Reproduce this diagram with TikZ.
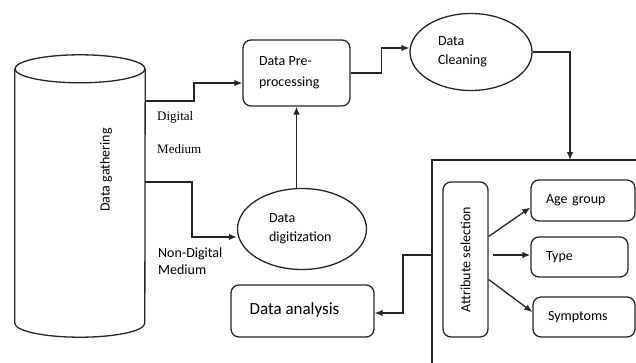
\documentclass[tikz,border=0pt]{standalone}
\usepackage{fontspec}
\setmainfont{Carlito}
\newfontfamily\serifcap{Liberation Serif}
\usetikzlibrary{shapes.geometric,arrows.meta,calc}

\tikzset{
  base/.style={draw=black!85, line width=1.3pt, inner sep=0pt,
               font=\fontsize{14}{19}\selectfont},
  roundbox/.style={base, rectangle, rounded corners=8pt},
  oval/.style={base, ellipse},
  attrbox/.style={roundbox, align=left, inner xsep=15pt, anchor=center},
  link/.style={draw=black!85, line width=1.3pt, -{Latex[length=8pt,width=6.5pt]}},
  plain/.style={draw=black!85, line width=1.3pt},
  medlabel/.style={anchor=west, align=left, inner sep=0pt}
}

\begin{document}
\begin{tikzpicture}[x=1pt,y=-1pt]
  \useasboundingbox (0,0) rectangle (636,362);

  % storage cylinder
  \node (cyl) [rectangle, minimum width=130pt, minimum height=254pt, inner sep=0pt] at (80,196) {};
  \draw[plain] (cyl.north west) -- (cyl.south west)
        arc[start angle=180, end angle=360, x radius=65pt, y radius=14pt]
        -- (cyl.north east);
  \draw[plain] (cyl.north) ellipse [x radius=65pt, y radius=14pt];
  \node (gather) [font=\fontsize{14}{17}\selectfont, inner sep=0pt] at (106,170)
        {\rotatebox{90}{Data gathering}};

  % processing chain
  \node (prep) [roundbox, minimum width=107pt, minimum height=66pt, align=left,
                font=\fontsize{14}{21}\selectfont] at (296.5,73)
        {\hspace*{-5pt}\parbox{70pt}{Data Pre-\\processing}};
  \node (clean) [oval, minimum width=122pt, minimum height=77pt, align=left] at (471,52)
        {\hspace*{-6pt}\parbox{60pt}{Data\\Cleaning}};
  \node (digit) [oval, minimum width=129pt, minimum height=81pt, align=left] at (302,229)
        {\raisebox{4pt}{\parbox{66pt}{Data\\digitization}}};
  \node (analysis) [roundbox, minimum width=143pt, minimum height=52pt,
                    font=\fontsize{17}{20}\selectfont] at (302.5,311)
        {\hspace*{-16pt}\raisebox{5pt}{Data analysis}};

  % attribute block
  \node (attr) [roundbox, minimum width=45pt, minimum height=155pt] at (465.5,259.5)
        {\rotatebox{90}{Attribute selection}};
  \node (age) [attrbox, minimum height=41pt, text width=74pt] at (583,200.5) {Age group};
  \node (type) [attrbox, minimum height=40pt, text width=67pt] at (579.5,257) {Type};
  \node (sym) [attrbox, minimum height=40pt, text width=72pt] at (584,317) {Symptoms};

  % medium labels
  \node (dlab) [medlabel, font=\serifcap\fontsize{13}{33}\selectfont] at (157,133)
        {Digital\\Medium};
  \node (ndlab) [medlabel, font=\fontsize{14}{17}\selectfont] at (158,261.5)
        {Non-Digital\\Medium};

  % open frame round the attribute block
  \coordinate (frametop) at (570,160);
  \coordinate (frameleft) at (432,255);
  \draw[plain] (640,160) -- (432,160) -- (432,366);

  % connectors
  \coordinate (digout) at (145,101);
  \coordinate (nondigout) at (145,182);
  \draw[link] (digout) -- ++(49,0) |- ([yshift=-10pt]prep.west);
  \draw[link] (nondigout) -- ++(47,0) |- ([yshift=-8pt]digit.west);
  \draw[link] (digit.north -| prep.south) -- (prep.south);
  \draw[link] (prep.east) -- ++(31,0) |- ([yshift=4pt]clean.west);
  \draw[link] (clean.east) -| (frametop);
  \draw[link] (frameleft) -- ++(-29,0) |- ([yshift=-2pt]analysis.east);

  \draw[link] ([yshift=23pt]attr.east) -- ([yshift=-7pt]age.west);
  \draw[link] ([yshift=4.5pt,xshift=4pt]attr.east) -- ([yshift=2pt]type.west);
  \draw[link] ([yshift=-20pt]attr.east) -- ([yshift=5pt]sym.west);
\end{tikzpicture}
\end{document}
